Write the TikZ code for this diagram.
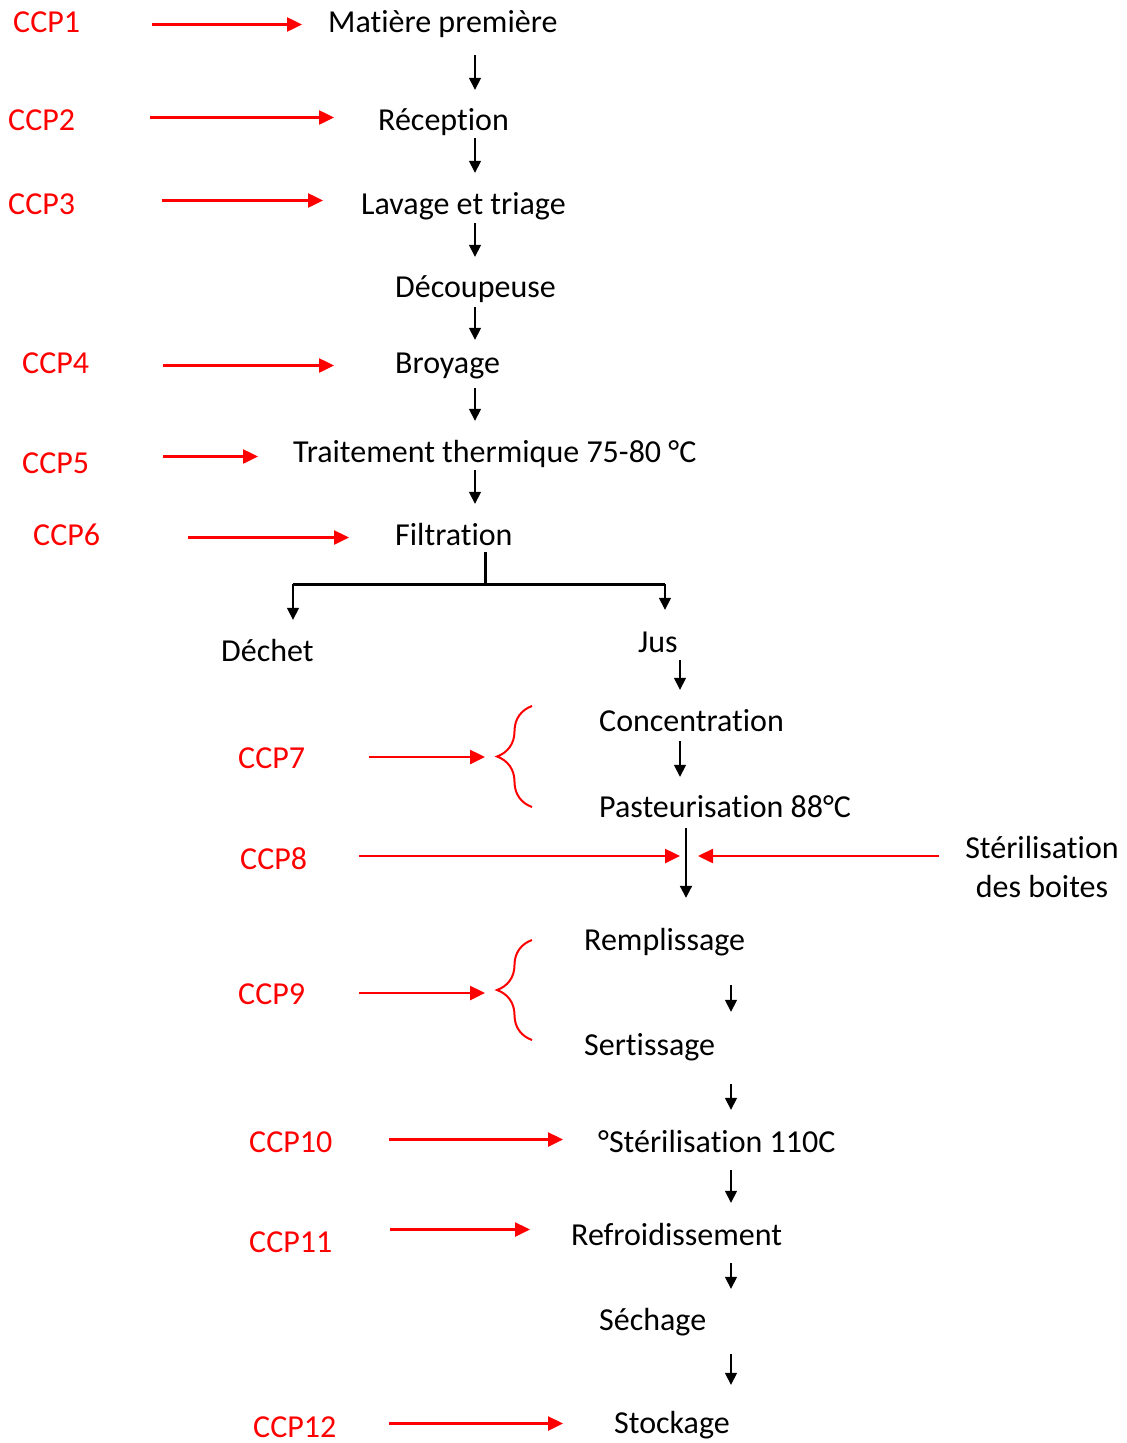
\documentclass[tikz,border=0pt]{standalone}
\usepackage{fontspec}
\setmainfont{Carlito}[Ligatures=NoCommon]
\usetikzlibrary{arrows.meta,decorations.pathreplacing}
\definecolor{ccpred}{HTML}{FF0000}

\begin{document}
\begin{tikzpicture}[x=1pt, y=-1pt, every node/.style={font=\fontsize{32}{39}\selectfont,inner sep=0pt}, stage/.style={anchor=base west,text height=22pt,text depth=7pt}, ccp/.style={stage,text=ccpred}, arr/.style={-{Triangle[length=12pt,width=12pt]},line width=1.5pt}, ccparr/.style={-{Triangle[length=15pt,width=14pt]},ccpred,line width=2.5pt}, brace/.style={ccpred,line width=2pt,decorate,decoration={brace,amplitude=35pt}}]
\useasboundingbox (0,0) rectangle (1127,1443);
% process steps
\node[stage] (matiere) at (328,32) {Matière première};
\node[stage] (reception) at (378,130) {Réception};
\node[stage] (lavage) at (361,214) {Lavage et triage};
\node[stage] (decoupe) at (395,297) {Découpeuse};
\node[stage] (broyage) at (395,373) {Broyage};
\node[stage] (traitement) at (293,462) {Traitement thermique 75-80 °C};
\node[stage] (filtration) at (395,545) {Filtration};
\node[stage] (dechet) at (221,661) {Déchet};
\node[stage] (jus) at (638,652) {Jus};
\node[stage] (conc) at (599,731) {Concentration};
\node[stage] (pasteur) at (599,817) {Pasteurisation 88°C};
\node[stage] (rempl) at (584,950) {Remplissage};
\node[stage] (sertis) at (584,1055) {Sertissage};
\node[stage] (steril) at (598,1152) {°Stérilisation 110C};
\node[stage] (refroid) at (571,1245) {Refroidissement};
\node[stage] (sechage) at (599,1330) {Séchage};
\node[stage] (stockage) at (614,1433) {Stockage};
\node[align=center] (boites) at (1042,867) {Stérilisation\\des boites};
% critical control points
\node[ccp] (ccp1) at (13,32) {CCP1};
\node[ccp] (ccp2) at (8,130) {CCP2};
\node[ccp] (ccp3) at (8,214) {CCP3};
\node[ccp] (ccp4) at (22,373) {CCP4};
\node[ccp] (ccp5) at (22,473) {CCP5};
\node[ccp] (ccp6) at (33,545) {CCP6};
\node[ccp] (ccp7) at (238,768) {CCP7};
\node[ccp] (ccp8) at (240,869) {CCP8};
\node[ccp] (ccp9) at (238,1004) {CCP9};
\node[ccp] (ccp10) at (249,1152) {CCP10};
\node[ccp] (ccp11) at (249,1252) {CCP11};
\node[ccp] (ccp12) at (253,1437) {CCP12};
% helper points
\coordinate (colA) at (475,0);
\coordinate (colB) at (680,0);
\coordinate (colC) at (686,0);
\coordinate (colD) at (731,0);
\coordinate (split) at (485,584);
\coordinate (splitL) at (293,584);
\coordinate (splitR) at (665,584);
\coordinate (mid8) at (686,856);
\coordinate (tip7) at (497,757);
\coordinate (tip9) at (497,993);
% main flow
\draw[arr,shorten <=16pt,shorten >=18pt] (colA |- matiere.south) -- (colA |- reception.north);
\draw[arr,shorten <=1pt,shorten >=19pt] (colA |- reception.south) -- (colA |- lavage.north);
\draw[arr,shorten <=2pt,shorten >=18pt] (colA |- lavage.south) -- (colA |- decoupe.north);
\draw[arr,shorten <=3pt,shorten >=11pt] (colA |- decoupe.south) -- (colA |- broyage.north);
\draw[arr,shorten <=8pt,shorten >=19pt] (colA |- broyage.south) -- (colA |- traitement.north);
\draw[arr,shorten <=1pt,shorten >=19pt] (colA |- traitement.south) -- (colA |- filtration.north);
\draw[line width=3pt] (filtration.south -| split) -- (split);
\draw[line width=3pt] (splitL) -- (splitR);
\draw[arr,shorten >=19pt] (splitL) -- (splitL |- dechet.north);
\draw[arr,shorten >=20pt] (splitR) -- (splitR |- jus.north);
\draw[arr,shorten <=1pt,shorten >=19pt] (colB |- jus.south) -- (colB |- conc.north);
\draw[arr,shorten <=3pt,shorten >=18pt] (colB |- conc.south) -- (colB |- pasteur.north);
\draw[arr,line width=2pt,shorten <=4pt,shorten >=30pt] (colC |- pasteur.south) -- (colC |- rempl.north);
\draw[arr,shorten <=28pt,shorten >=21pt] (colD |- rempl.south) -- (colD |- sertis.north);
\draw[arr,shorten <=22pt,shorten >=20pt] (colD |- sertis.south) -- (colD |- steril.north);
\draw[arr,shorten <=11pt,shorten >=20pt] (colD |- steril.south) -- (colD |- refroid.north);
\draw[arr,shorten <=11pt,shorten >=19pt] (colD |- refroid.south) -- (colD |- sechage.north);
\draw[arr,shorten <=17pt,shorten >=26pt] (colD |- sechage.south) -- (colD |- stockage.north);
% braces
\draw[brace] (532,807) -- (532,706);
\draw[brace] (532,1040) -- (532,940);
% CCP arrows
\draw[ccparr,shorten <=72pt,shorten >=26pt] (ccp1.east) -- (ccp1.east -| matiere.west);
\draw[ccparr,shorten <=75pt,shorten >=44pt] ([yshift=5pt]ccp2.east) -- ([yshift=5pt]ccp2.east -| reception.west);
\draw[ccparr,shorten <=87pt,shorten >=38pt] ([yshift=6pt]ccp3.east) -- ([yshift=6pt]ccp3.east -| lavage.west);
\draw[ccparr,shorten <=74pt,shorten >=61pt] (ccp4.east) -- (ccp4.east -| broyage.west);
\draw[ccparr,shorten <=74pt,shorten >=35pt] ([yshift=9pt]ccp5.east) -- ([yshift=9pt]ccp5.east -| traitement.west);
\draw[ccparr,shorten <=88pt,shorten >=46pt] (ccp6.east) -- (ccp6.east -| filtration.west);
\draw[ccparr,shorten <=64pt,shorten >=12pt] (ccp7.east |- tip7) -- (tip7);
\draw[ccparr,shorten <=52pt,shorten >=6pt] (ccp8.east |- mid8) -- (mid8);
\draw[ccparr,shorten <=26pt,shorten >=12pt] (boites.west |- mid8) -- (mid8);
\draw[ccparr,shorten <=54pt,shorten >=12pt] (ccp9.east |- tip9) -- (tip9);
\draw[ccparr,shorten <=57pt,shorten >=35pt] ([yshift=5pt]ccp10.east) -- ([yshift=5pt]ccp10.east -| steril.west);
\draw[ccparr,shorten <=58pt,shorten >=41pt] ([yshift=15pt]ccp11.east) -- ([yshift=15pt]ccp11.east -| refroid.west);
\draw[ccparr,shorten <=53pt,shorten >=51pt] ([yshift=6pt]ccp12.east) -- ([yshift=6pt]ccp12.east -| stockage.west);
\end{tikzpicture}
\end{document}
